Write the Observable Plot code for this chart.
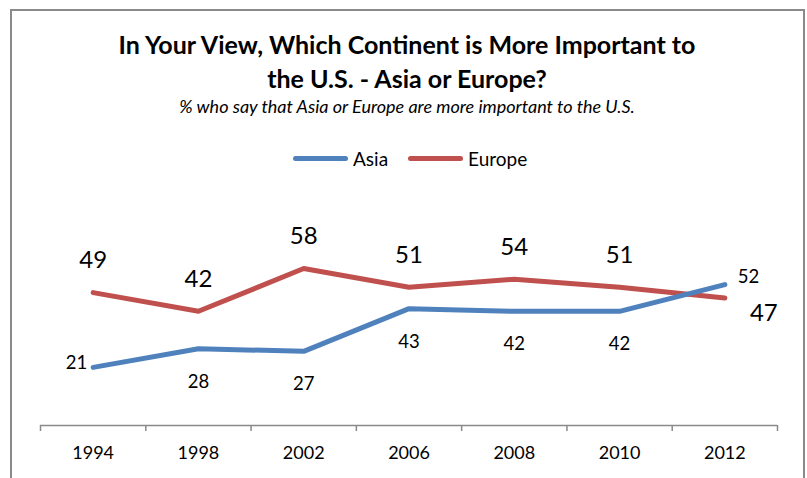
<!DOCTYPE html>
<html>
<head>
<meta charset="utf-8">
<script src="https://cdn.jsdelivr.net/npm/d3@7"></script>
<script src="https://cdn.jsdelivr.net/npm/@observablehq/plot@0.6"></script>
<style>
  html, body { margin: 0; padding: 0; background: #fff; width: 807px; height: 478px; overflow: hidden; }
  body { position: relative; font-family: Lato, "Open Sans", sans-serif; color: #000; }
  #frame { position: absolute; left: 10px; top: 9px; width: 795px; height: 520px; border: 2px solid #8a8a8a; box-sizing: border-box; }
  #header { position: absolute; left: 0; top: 0; width: 807px; height: 190px; }
  .t { position: absolute; left: 0; width: 814px; text-align: center; white-space: nowrap; line-height: 1; }
  #t1 { top: 32px; font-size: 25px; font-weight: 700; }
  #t2 { top: 66px; font-size: 25px; font-weight: 700; }
  #sub { top: 97px; font-size: 18px; font-style: italic; }
  #legend { position: absolute; top: 146px; left: 293px; height: 24px; display: flex; align-items: center; font-size: 19px; }
  .sw { display: inline-block; width: 55px; height: 5px; border-radius: 3px; margin-right: 5px; }
  #chart { position: absolute; left: 0; top: 190px; }
</style>
</head>
<body>
<div id="frame"></div>
<div id="header">
  <div class="t" id="t1">In Your View, Which Continent is More Important to</div>
  <div class="t" id="t2">the U.S. - Asia or Europe?</div>
  <div class="t" id="sub">% who say that Asia or Europe are more important to the U.S.</div>
  <div id="legend">
    <span class="sw" style="background:#4F81BD"></span><span style="margin-right:20px">Asia</span>
    <span class="sw" style="background:#C0504D"></span><span>Europe</span>
  </div>
</div>
<div id="chart"></div>
<script>
const years = ["1994", "1998", "2002", "2006", "2008", "2010", "2012"];
const asia = [21, 28, 27, 43, 42, 42, 52];
const europe = [49, 42, 58, 51, 54, 51, 47];

const blue = "#4F81BD", red = "#C0504D";
const n = years.length;
const asiaData = years.map((y, i) => ({i: i + 0.5, v: asia[i], k: i}));
const euroData = years.map((y, i) => ({i: i + 0.5, v: europe[i], k: i}));
const last = n - 1;

const plot = Plot.plot({
  width: 807,
  height: 288,
  marginLeft: 40,
  marginRight: 30,
  marginTop: 46,
  marginBottom: 55,
  style: {fontFamily: "Lato, 'Open Sans', sans-serif", background: "transparent", overflow: "visible"},
  x: {domain: [0, n], axis: null},
  y: {domain: [0, 70], axis: null},
  marks: [
    Plot.ruleY([0], {stroke: "#8a8a8a", strokeWidth: 1.5, dy: 2}),
    Plot.axisX(d3.range(0, n + 1), {tickSize: 6, tickFormat: () => "", label: null, stroke: "#8a8a8a", strokeWidth: 1.5, dy: 2}),
    Plot.axisX(d3.range(0, n).map(i => i + 0.5), {tickSize: 0, tickPadding: 23, label: null, tickFormat: d => years[Math.floor(d)], fontSize: 18, fill: "#000"}),
    Plot.line(euroData, {x: "i", y: "v", stroke: red, strokeWidth: 5}),
    Plot.line(asiaData, {x: "i", y: "v", stroke: blue, strokeWidth: 5}),
    Plot.text(euroData.filter(d => d.k !== last), {x: "i", y: "v", text: "v", dy: -32, fontSize: 24, fill: "#000"}),
    Plot.text(euroData.filter(d => d.k === last), {x: "i", y: "v", text: "v", dx: 39, dy: 15, fontSize: 24, fill: "#000"}),
    Plot.text(asiaData.filter(d => d.k === 0), {x: "i", y: "v", text: "v", dx: -6, dy: -4, textAnchor: "end", fontSize: 18.5, fill: "#000"}),
    Plot.text(asiaData.filter(d => d.k > 0 && d.k < last), {x: "i", y: "v", text: "v", dy: 33, fontSize: 18.5, fill: "#000"}),
    Plot.text(asiaData.filter(d => d.k === last), {x: "i", y: "v", text: "v", dx: 13, dy: -8, textAnchor: "start", fontSize: 18.5, fill: "#000"})
  ]
});
document.getElementById("chart").appendChild(plot);
</script>
</body>
</html>
